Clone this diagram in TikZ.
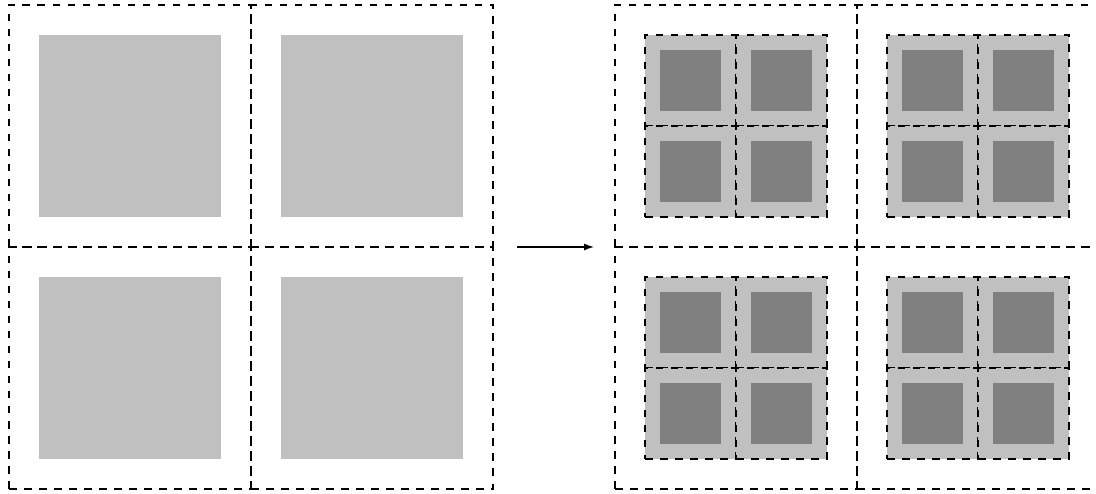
\documentclass[tikz,border=0pt]{standalone}
\usetikzlibrary{arrows.meta}
\definecolor{lightg}{RGB}{192,192,192}
\definecolor{darkg}{RGB}{128,128,128}
\tikzset{
  dsh/.style={draw=black, line width=2.2pt, dash pattern=on 7.5pt off 7.5pt},
  cell/.style={dsh, minimum size=242pt, inner sep=0pt, outer sep=0pt},
  bigsq/.style={fill=lightg, draw=none, minimum size=182pt, inner sep=0pt, outer sep=0pt},
  subcell/.style={fill=lightg, dsh, minimum size=91pt, inner sep=0pt, outer sep=0pt},
  darksq/.style={fill=darkg, draw=none, minimum size=61pt, inner sep=0pt, outer sep=0pt},
  arr/.style={line width=1.2pt, -{Latex[length=10pt,width=7pt]}}
}
\begin{document}
\begin{tikzpicture}[x=1pt,y=-1pt]
\useasboundingbox (0,0) rectangle (1096,494);
% left grid
\foreach \cx/\cy/\n in {130/126/a,372/126/b,130/368/c,372/368/d}{
  \node[bigsq] (L\n sq) at (\cx,\cy) {};
  \node[cell] (L\n) at (\cx,\cy) {};
}
% right grid
\begin{scope}
\clip (0,0) rectangle (1096,494);
\foreach \cx/\cy/\n in {736/126/a,978/126/b,736/368/c,978/368/d}{
  \node[cell] (R\n) at (\cx,\cy) {};
  \foreach \dx/\dy/\m in {-45.5/-45.5/1,45.5/-45.5/2,-45.5/45.5/3,45.5/45.5/4}{
    \node[subcell] (R\n\m) at (\cx+\dx,\cy+\dy) {};
    \node[darksq] (R\n\m d) at (\cx+\dx,\cy+\dy) {};
  }
}
\end{scope}
\coordinate (as) at (517,247);
\coordinate (ae) at (594,247);
\draw[arr] (as) -- (ae);
\end{tikzpicture}
\end{document}
